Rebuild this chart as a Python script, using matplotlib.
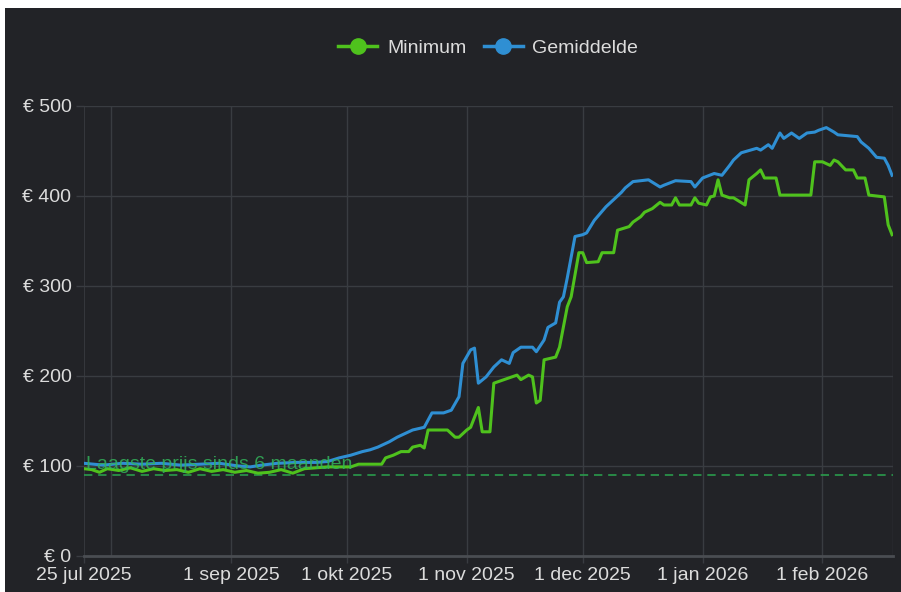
import matplotlib
matplotlib.use("Agg")
import matplotlib.pyplot as plt
import matplotlib.dates as mdates
from matplotlib.lines import Line2D
from matplotlib.patches import Rectangle
import pandas as pd

plt.rcParams['font.family'] = ['Liberation Sans', 'DejaVu Sans']

min_dates = ["2025-07-25", "2025-07-27", "2025-07-29", "2025-07-31", "2025-08-03", "2025-08-06",
             "2025-08-09", "2025-08-12", "2025-08-15", "2025-08-18", "2025-08-21", "2025-08-24",
             "2025-08-27", "2025-08-30", "2025-09-02", "2025-09-05", "2025-09-08", "2025-09-11",
             "2025-09-14", "2025-09-17", "2025-09-20", "2025-09-23", "2025-09-26", "2025-09-29",
             "2025-10-02", "2025-10-04", "2025-10-10", "2025-10-11", "2025-10-13", "2025-10-15",
             "2025-10-17", "2025-10-18", "2025-10-20", "2025-10-21", "2025-10-22", "2025-10-27",
             "2025-10-29", "2025-10-30", "2025-11-01", "2025-11-02", "2025-11-04", "2025-11-05",
             "2025-11-07", "2025-11-08", "2025-11-12", "2025-11-14", "2025-11-15", "2025-11-17",
             "2025-11-18", "2025-11-19", "2025-11-20", "2025-11-21", "2025-11-24", "2025-11-25",
             "2025-11-27", "2025-11-28", "2025-11-30", "2025-12-01", "2025-12-02", "2025-12-05",
             "2025-12-06", "2025-12-09", "2025-12-10", "2025-12-13", "2025-12-14", "2025-12-16",
             "2025-12-17", "2025-12-19", "2025-12-21", "2025-12-22", "2025-12-24", "2025-12-25",
             "2025-12-26", "2025-12-29", "2025-12-30", "2025-12-31", "2026-01-02", "2026-01-03",
             "2026-01-04", "2026-01-05", "2026-01-06", "2026-01-08", "2026-01-09", "2026-01-12",
             "2026-01-13", "2026-01-15", "2026-01-16", "2026-01-17", "2026-01-20", "2026-01-21",
             "2026-01-29", "2026-01-30", "2026-02-01", "2026-02-03", "2026-02-04", "2026-02-05",
             "2026-02-07", "2026-02-09", "2026-02-10", "2026-02-12", "2026-02-13", "2026-02-17",
             "2026-02-18", "2026-02-19"]
min_values = [97, 96, 93, 97, 95, 98,
              94, 97, 95, 96, 93, 97,
              94, 96, 93, 95, 92, 93,
              96, 92, 97, 98, 99, 99,
              99, 102, 102, 109, 112, 116,
              116, 121, 123, 120, 140, 140,
              132, 132, 140, 143, 165, 138,
              138, 192, 198, 201, 196, 201,
              199, 170, 173, 218, 221, 232,
              277, 288, 337, 337, 326, 327,
              337, 337, 362, 366, 371, 377,
              382, 386, 393, 390, 390, 398,
              390, 390, 398, 392, 390, 399,
              400, 418, 401, 398, 398, 390,
              418, 425, 429, 420, 420, 401,
              401, 438, 438, 434, 440, 438,
              429, 429, 420, 420, 401, 399,
              368, 357]

avg_dates = ["2025-07-25", "2025-07-30", "2025-08-04", "2025-08-09", "2025-08-14", "2025-08-19",
             "2025-08-24", "2025-08-29", "2025-09-03", "2025-09-06", "2025-09-09", "2025-09-13",
             "2025-09-18", "2025-09-23", "2025-09-26", "2025-09-29", "2025-10-02", "2025-10-05",
             "2025-10-07", "2025-10-09", "2025-10-12", "2025-10-14", "2025-10-17", "2025-10-18",
             "2025-10-20", "2025-10-21", "2025-10-23", "2025-10-26", "2025-10-28", "2025-10-30",
             "2025-10-31", "2025-11-02", "2025-11-03", "2025-11-04", "2025-11-06", "2025-11-08",
             "2025-11-10", "2025-11-12", "2025-11-13", "2025-11-15", "2025-11-18", "2025-11-19",
             "2025-11-21", "2025-11-22", "2025-11-24", "2025-11-25", "2025-11-26", "2025-11-27",
             "2025-11-29", "2025-12-01", "2025-12-02", "2025-12-04", "2025-12-07", "2025-12-08",
             "2025-12-11", "2025-12-12", "2025-12-14", "2025-12-18", "2025-12-21", "2025-12-22",
             "2025-12-25", "2025-12-29", "2025-12-30", "2026-01-01", "2026-01-04", "2026-01-06",
             "2026-01-08", "2026-01-09", "2026-01-11", "2026-01-15", "2026-01-16", "2026-01-18",
             "2026-01-19", "2026-01-21", "2026-01-22", "2026-01-24", "2026-01-26", "2026-01-28",
             "2026-01-30", "2026-01-31", "2026-02-02", "2026-02-04", "2026-02-05", "2026-02-10",
             "2026-02-11", "2026-02-13", "2026-02-15", "2026-02-17", "2026-02-18", "2026-02-19"]
avg_values = [103, 101, 103, 102, 103, 101,
              102, 103, 100, 99, 101, 103,
              104, 104, 105, 109, 112, 116,
              118, 121, 127, 132, 138, 140,
              142, 143, 159, 159, 162, 177,
              214, 229, 231, 192, 199, 210,
              218, 214, 226, 232, 232, 227,
              240, 254, 259, 282, 288, 309,
              355, 357, 359, 373, 388, 392,
              404, 409, 416, 418, 410, 412,
              417, 416, 410, 420, 425, 423,
              434, 440, 448, 453, 451, 457,
              453, 470, 464, 470, 464, 470,
              471, 473, 476, 471, 468, 466,
              460, 453, 443, 442, 434, 423]

low_price = 90
low_label = "Laagste prijs sinds 6 maanden"
series_names = ["Minimum", "Gemiddelde"]
y_ticks = [0, 100, 200, 300, 400, 500]
x_tick_dates = ["2025-07-25", "2025-09-01", "2025-10-01", "2025-11-01", "2025-12-01",
                "2026-01-01", "2026-02-01"]
x_tick_labels = ["25 jul 2025", "1 sep 2025", "1 okt 2025", "1 nov 2025", "1 dec 2025",
                 "1 jan 2026", "1 feb 2026"]
grid_dates = ["2025-08-01", "2025-09-01", "2025-10-01", "2025-11-01", "2025-12-01",
              "2026-01-01", "2026-02-01"]

BG = "#222327"
GRID = "#393c41"
TEXT = "#dcdcdc"
GREEN = "#4fc21d"
BLUE = "#2f8fd3"
DASH = "#2a9a4c"

fig = plt.figure(figsize=(9.01, 5.92), dpi=100, facecolor="white")
fig.patches.append(Rectangle((5 / 901, 0), 1, 1 - 8 / 592, transform=fig.transFigure,
                             facecolor=BG, edgecolor="none", zorder=-10))

ax = fig.add_axes([84 / 901, 1 - 556 / 592, (893 - 84) / 901, (556 - 106) / 592])
ax.set_facecolor(BG)

md = pd.to_datetime(min_dates)
ad = pd.to_datetime(avg_dates)
xstart = pd.Timestamp(x_tick_dates[0])
xend = pd.Timestamp(avg_dates[-1]) + pd.Timedelta(hours=6)

for g in grid_dates:
    ax.axvline(pd.Timestamp(g), color=GRID, lw=1.0, zorder=0)
ax.axvline(xstart, color=GRID, lw=1.2, zorder=0)
ax.axvline(xend, color=GRID, lw=1.0, zorder=0)
for yv in y_ticks[1:]:
    ax.axhline(yv, color=GRID, lw=1.0, zorder=0)

ax.axhline(low_price, color=DASH, lw=1.2, ls=(0, (5, 3.5)), zorder=2)

ax.plot(md, min_values, color=GREEN, lw=2.2, zorder=3, solid_joinstyle="round")
ax.plot(ad, avg_values, color=BLUE, lw=2.2, zorder=3, solid_joinstyle="round")

ax.text(pd.Timestamp("2025-07-25 12:00"), low_price + 2, low_label, color="#33b35a",
        fontsize=14, va="bottom", ha="left", alpha=0.85, zorder=5)

ax.set_xlim(xstart, xend)
ax.set_ylim(0, 500)
ax.set_yticks(y_ticks)
ax.set_yticklabels([f"€ {v}" for v in y_ticks])
ax.set_xticks(pd.to_datetime(x_tick_dates))
ax.set_xticklabels(x_tick_labels)

for s in ["top", "right", "left"]:
    ax.spines[s].set_visible(False)
ax.spines["bottom"].set_color("#4a4d52")
ax.spines["bottom"].set_linewidth(2.0)

ax.tick_params(axis="both", colors=TEXT, labelsize=14)
ax.tick_params(axis="y", length=6, width=1, color=GRID, pad=3)
ax.tick_params(axis="x", length=5, width=1, color=GRID, pad=3)

handles = [Line2D([0], [0], color=GREEN, lw=2.5, marker="o", markersize=11),
           Line2D([0], [0], color=BLUE, lw=2.5, marker="o", markersize=11)]
leg = fig.legend(handles, series_names, loc="center", bbox_to_anchor=(0.542, 0.919), ncol=2,
                 frameon=False, fontsize=14, handlelength=2.0, handletextpad=0.5,
                 columnspacing=0.9)
for t in leg.get_texts():
    t.set_color(TEXT)

fig.savefig("out.png", dpi=100, facecolor=fig.get_facecolor())
